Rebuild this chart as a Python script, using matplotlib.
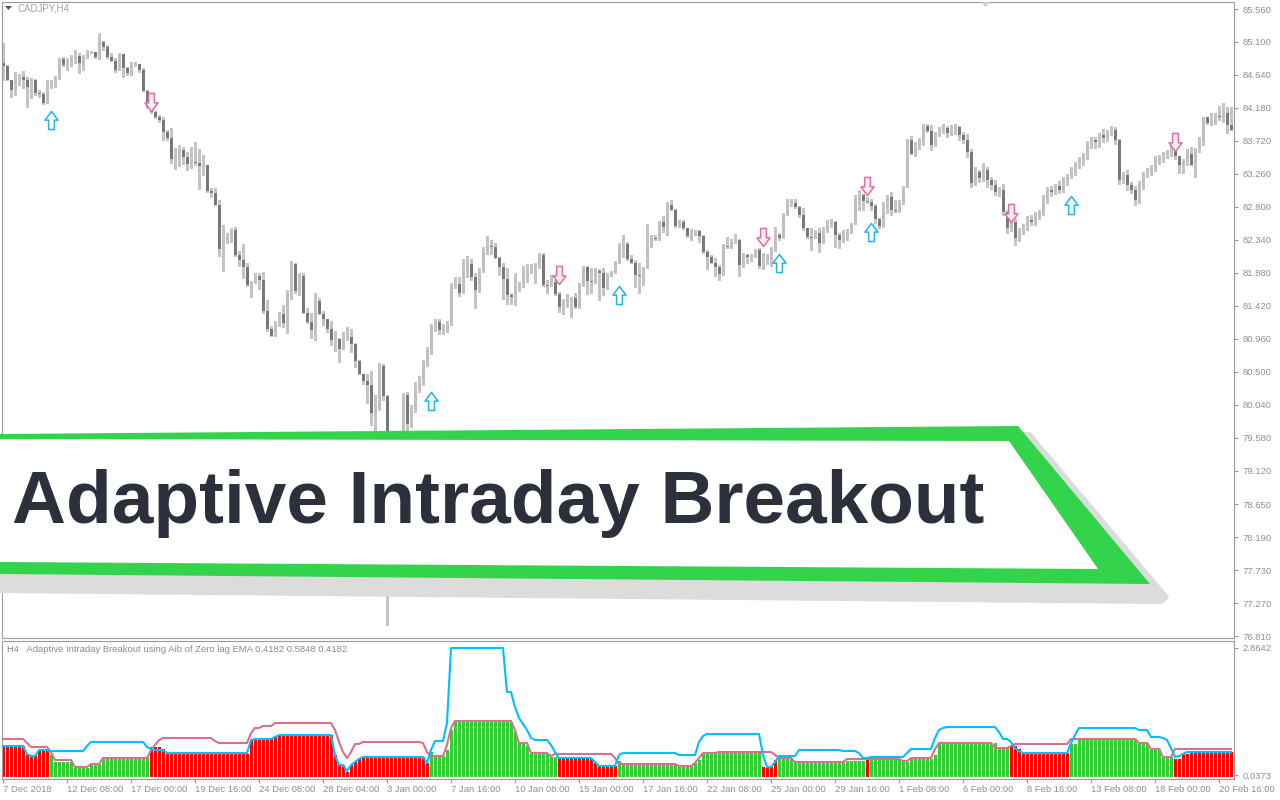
import numpy as np
import matplotlib.pyplot as plt
from matplotlib.path import Path
from matplotlib.patches import Polygon

# ---- price data (CADJPY H4), one value per bar ----
first_open = 84.81
closes = [
    84.77, 84.57, 84.43, 84.57, 84.61, 84.57, 84.47, 84.57, 84.39, 84.37,
    84.25, 84.50, 84.54, 84.60, 84.86, 84.78, 84.84, 84.89, 84.91, 84.81,
    84.89, 84.95, 84.96, 84.89, 85.10, 85.03, 84.89, 84.84, 84.71, 84.93,
    84.74, 84.67, 84.78, 84.79, 84.71, 84.42, 84.19, 84.12, 84.05, 84.01,
    83.84, 83.76, 83.47, 83.52, 83.59, 83.50, 83.40, 83.43, 83.41, 83.37,
    83.38, 83.02, 82.99, 82.83, 82.21, 82.34, 82.37, 82.48, 82.13, 82.06,
    81.96, 81.71, 81.75, 81.84, 81.78, 81.35, 81.10, 81.00, 81.17, 81.30,
    81.18, 81.58, 82.00, 81.63, 81.84, 81.32, 81.19, 81.08, 81.49, 81.30,
    81.23, 81.10, 80.94, 80.96, 80.82, 80.97, 80.98, 80.89, 80.65, 80.47,
    80.37, 80.31, 79.92, 79.98, 80.58, 80.16, 79.41, 79.34, 79.48, 79.55,
    80.17, 79.77, 79.98, 80.26, 80.34, 80.62, 80.80, 81.12, 81.19, 81.08,
    81.11, 81.15, 81.70, 81.72, 81.60, 81.89, 82.00, 81.82, 81.64, 81.89,
    82.17, 82.25, 82.24, 82.09, 81.96, 81.79, 81.57, 81.54, 81.70, 81.72,
    81.88, 81.90, 81.96, 82.00, 82.13, 81.71, 81.70, 81.75, 81.58, 81.40,
    81.47, 81.51, 81.53, 81.40, 81.71, 81.96, 81.77, 81.75, 81.90, 81.88,
    81.67, 81.84, 81.88, 82.03, 82.27, 82.28, 82.07, 82.02, 81.85, 81.84,
    81.95, 82.25, 82.37, 82.35, 82.59, 82.52, 82.83, 82.76, 82.53, 82.59,
    82.50, 82.39, 82.42, 82.46, 82.39, 82.17, 82.10, 82.02, 81.96, 81.86,
    82.25, 82.24, 82.32, 82.34, 81.99, 82.13, 82.10, 82.11, 82.20, 81.97,
    82.10, 82.11, 82.20, 82.41, 82.37, 82.69, 82.84, 82.85, 82.80, 82.69,
    82.50, 82.38, 82.37, 82.43, 82.30, 82.48, 82.56, 82.59, 82.41, 82.34,
    82.41, 82.45, 82.57, 82.88, 82.97, 82.88, 82.87, 82.81, 82.63, 82.53,
    82.77, 82.94, 82.76, 82.74, 82.85, 83.08, 83.73, 83.54, 83.64, 83.73,
    83.93, 83.86, 83.66, 83.80, 83.87, 83.90, 83.83, 83.87, 83.91, 83.80,
    83.73, 83.57, 83.13, 83.29, 83.20, 83.31, 83.17, 83.10, 83.01, 83.04,
    82.73, 82.50, 82.59, 82.37, 82.45, 82.53, 82.62, 82.59, 82.69, 82.73,
    82.90, 83.04, 83.01, 83.09, 83.04, 83.17, 83.23, 83.29, 83.38, 83.45,
    83.52, 83.66, 83.73, 83.70, 83.80, 83.76, 83.83, 83.87, 83.73, 83.17,
    83.24, 83.10, 83.04, 82.90, 83.10, 83.24, 83.31, 83.34, 83.45, 83.48,
    83.52, 83.56, 83.59, 83.51, 83.38, 83.43, 83.54, 83.38, 83.61, 83.69,
    84.05, 83.97, 83.97, 84.07, 84.05, 84.11, 83.94, 83.87,
]
upper_wick = [
    0.28, 0.01, 0.00, 0.11, 0.04, 0.08, 0.04, 0.03, 0.01, 0.04,
    0.03, 0.07, 0.03, 0.03, 0.01, 0.03, 0.03, 0.03, 0.08, 0.04,
    0.03, 0.04, 0.01, 0.00, 0.13, 0.01, 0.03, 0.06, 0.03, 0.01,
    0.00, 0.01, 0.04, 0.03, 0.00, 0.03, 0.01, 0.00, 0.01, 0.03,
    0.05, 0.03, 0.14, 0.10, 0.07, 0.04, 0.06, 0.20, 0.28, 0.20,
    0.14, 0.01, 0.04, 0.07, 0.07, 0.20, 0.06, 0.03, 0.04, 0.06,
    0.22, 0.06, 0.01, 0.04, 0.04, 0.11, 0.15, 0.03, 0.03, 0.03,
    0.13, 0.06, 0.04, 0.02, 0.03, 0.04, 0.07, 0.13, 0.11, 0.04,
    0.04, 0.01, 0.11, 0.11, 0.01, 0.08, 0.14, 0.11, 0.01, 0.01,
    0.00, 0.10, 0.20, 0.20, 0.04, 0.03, 0.01, 0.05, 0.05, 0.10,
    0.03, 0.05, 0.05, 0.10, 0.10, 0.04, 0.05, 0.05, 0.05, 0.05,
    0.05, 0.05, 0.04, 0.10, 0.10, 0.18, 0.11, 0.07, 0.06, 0.06,
    0.07, 0.14, 0.08, 0.06, 0.01, 0.05, 0.15, 0.03, 0.18, 0.03,
    0.10, 0.10, 0.04, 0.01, 0.03, 0.03, 0.07, 0.10, 0.03, 0.03,
    0.04, 0.07, 0.01, 0.07, 0.03, 0.01, 0.01, 0.18, 0.04, 0.03,
    0.06, 0.04, 0.03, 0.01, 0.03, 0.13, 0.03, 0.06, 0.04, 0.17,
    0.01, 0.31, 0.04, 0.03, 0.01, 0.08, 0.04, 0.06, 0.01, 0.03,
    0.03, 0.01, 0.07, 0.01, 0.01, 0.01, 0.03, 0.03, 0.07, 0.03,
    0.03, 0.13, 0.03, 0.08, 0.01, 0.03, 0.01, 0.03, 0.01, 0.03,
    0.06, 0.03, 0.04, 0.11, 0.03, 0.03, 0.07, 0.06, 0.06, 0.01,
    0.10, 0.01, 0.13, 0.04, 0.07, 0.04, 0.06, 0.04, 0.01, 0.03,
    0.07, 0.04, 0.01, 0.08, 0.07, 0.01, 0.06, 0.04, 0.03, 0.01,
    0.10, 0.03, 0.06, 0.14, 0.04, 0.01, 0.01, 0.06, 0.07, 0.03,
    0.03, 0.03, 0.08, 0.04, 0.04, 0.06, 0.03, 0.07, 0.04, 0.02,
    0.05, 0.08, 0.04, 0.06, 0.03, 0.10, 0.04, 0.05, 0.07, 0.03,
    0.08, 0.03, 0.05, 0.04, 0.06, 0.03, 0.05, 0.07, 0.04, 0.03,
    0.06, 0.04, 0.05, 0.03, 0.07, 0.04, 0.03, 0.06, 0.04, 0.05,
    0.03, 0.06, 0.04, 0.05, 0.03, 0.08, 0.04, 0.06, 0.05, 0.02,
    0.05, 0.07, 0.04, 0.05, 0.06, 0.04, 0.03, 0.05, 0.06, 0.04,
    0.05, 0.03, 0.06, 0.08, 0.00, 0.04, 0.06, 0.10, 0.01, 0.08,
    0.00, 0.00, 0.14, 0.04, 0.13, 0.14, 0.08, 0.25,
]
lower_wick = [
    0.20, 0.00, 0.10, 0.07, 0.07, 0.11, 0.28, 0.15, 0.03, 0.04,
    0.01, 0.00, 0.04, 0.07, 0.01, 0.01, 0.07, 0.08, 0.08, 0.14,
    0.10, 0.01, 0.01, 0.01, 0.03, 0.04, 0.01, 0.01, 0.03, 0.00,
    0.13, 0.03, 0.03, 0.01, 0.03, 0.01, 0.01, 0.01, 0.01, 0.03,
    0.11, 0.03, 0.06, 0.14, 0.15, 0.10, 0.08, 0.06, 0.03, 0.32,
    0.13, 0.01, 0.06, 0.01, 0.10, 0.30, 0.04, 0.06, 0.01, 0.08,
    0.15, 0.01, 0.17, 0.01, 0.12, 0.03, 0.03, 0.00, 0.00, 0.04,
    0.06, 0.14, 0.07, 0.03, 0.06, 0.00, 0.01, 0.11, 0.14, 0.00,
    0.08, 0.04, 0.07, 0.15, 0.18, 0.01, 0.03, 0.12, 0.08, 0.00,
    0.04, 0.25, 0.17, 0.24, 0.01, 0.05, 2.45, 0.15, 0.10, 0.10,
    0.10, 0.08, 0.04, 0.05, 0.04, 0.03, 0.04, 0.05, 0.05, 0.05,
    0.05, 0.05, 0.00, 0.03, 0.04, 0.00, 0.07, 0.04, 0.25, 0.03,
    0.00, 0.03, 0.10, 0.01, 0.11, 0.27, 0.13, 0.10, 0.11, 0.08,
    0.04, 0.13, 0.03, 0.22, 0.06, 0.01, 0.10, 0.01, 0.01, 0.07,
    0.10, 0.07, 0.25, 0.01, 0.01, 0.01, 0.18, 0.15, 0.01, 0.38,
    0.10, 0.01, 0.01, 0.01, 0.01, 0.17, 0.01, 0.01, 0.17, 0.24,
    0.13, 0.01, 0.01, 0.01, 0.01, 0.07, 0.11, 0.01, 0.01, 0.01,
    0.01, 0.01, 0.06, 0.01, 0.08, 0.01, 0.17, 0.01, 0.13, 0.08,
    0.01, 0.01, 0.01, 0.03, 0.15, 0.03, 0.08, 0.06, 0.01, 0.03,
    0.04, 0.10, 0.14, 0.01, 0.03, 0.01, 0.01, 0.03, 0.01, 0.03,
    0.03, 0.01, 0.17, 0.01, 0.13, 0.01, 0.03, 0.04, 0.17, 0.11,
    0.03, 0.07, 0.01, 0.01, 0.13, 0.13, 0.01, 0.06, 0.06, 0.03,
    0.01, 0.06, 0.07, 0.01, 0.01, 0.01, 0.01, 0.01, 0.03, 0.03,
    0.07, 0.01, 0.07, 0.01, 0.01, 0.04, 0.06, 0.03, 0.05, 0.07,
    0.04, 0.08, 0.05, 0.03, 0.06, 0.04, 0.09, 0.05, 0.04, 0.06,
    0.05, 0.07, 0.04, 0.10, 0.05, 0.03, 0.06, 0.05, 0.04, 0.06,
    0.05, 0.04, 0.06, 0.03, 0.05, 0.04, 0.06, 0.03, 0.05, 0.04,
    0.07, 0.05, 0.04, 0.08, 0.06, 0.05, 0.04, 0.03, 0.06, 0.05,
    0.04, 0.06, 0.05, 0.07, 0.04, 0.05, 0.03, 0.06, 0.04, 0.05,
    0.06, 0.04, 0.05, 0.04, 0.11, 0.11, 0.04, 0.00, 0.17, 0.04,
    0.03, 0.01, 0.03, 0.01, 0.04, 0.06, 0.11, 0.00,
]

# signal arrows: (bar index, price)
buy_bars = [12, 107, 154, 194, 217, 267]
buy_prices = [84.01, 80.09, 81.57, 82.02, 82.45, 82.83]
sell_bars = [37, 139, 190, 216, 252, 293]
sell_prices = [84.26, 81.85, 82.38, 83.09, 82.71, 83.70]

price_labels = ['85.560', '85.100', '84.640', '84.180', '83.720', '83.260', '82.800',
                '82.340', '81.880', '81.420', '80.960', '80.500', '80.040', '79.580',
                '79.120', '78.650', '78.190', '77.730', '77.270', '76.810']

date_bars = [0, 16, 32, 48, 64, 80, 96, 112, 128, 144, 160, 176, 192, 208,
             224, 240, 256, 272, 288, 304]
date_labels = ['7 Dec 2018', '12 Dec 08:00', '17 Dec 00:00', '19 Dec 16:00',
               '24 Dec 08:00', '28 Dec 04:00', '3 Jan 00:00', '7 Jan 16:00',
               '10 Jan 08:00', '15 Jan 00:00', '17 Jan 16:00', '22 Jan 08:00',
               '25 Jan 00:00', '29 Jan 16:00', '1 Feb 08:00', '6 Feb 00:00',
               '8 Feb 16:00', '13 Feb 08:00', '18 Feb 00:00', '20 Feb 16:00']

# ---- indicator (runs of equal values: count, level) ----
hist_counts = [6, 3, 3, 1, 5, 4, 3, 12, 3, 1, 21, 6, 1, 14, 1, 2, 1, 1, 1, 1, 15, 1, 1,
               1, 3, 1, 1, 15, 1, 2, 1, 5, 2, 9, 1, 5, 1, 15, 3, 1, 1, 4, 11, 3, 1,
               4, 18, 1, 9, 1, 6, 1, 15, 3, 2, 1, 12, 2, 15, 3, 3, 3, 2, 2, 11]
hist_levels = [0.688, 0.488, 0.577, 0.488, 0.333, 0.200, 0.289, 0.422, 0.666, 0.622,
               0.511, 0.844, 0.888, 0.932, 0.488, 0.266, 0.111, 0.266, 0.333, 0.422,
               0.444, 0.444, 0.311, 0.555, 0.466, 0.599, 1.043, 1.221, 0.999, 0.755,
               0.688, 0.511, 0.444, 0.422, 0.311, 0.244, 0.355, 0.266, 0.244, 0.311,
               0.377, 0.533, 0.555, 0.222, 0.377, 0.400, 0.355, 0.377, 0.377, 0.333,
               0.400, 0.488, 0.755, 0.644, 0.688, 0.622, 0.533, 0.733, 0.844, 0.755,
               0.622, 0.444, 0.400, 0.511, 0.555]
hist_dirs = 'rrrgggggrrrrrrrrrrrrrrrggggggggggrrrgggggggrrggrggggggrrrgggggrrr'

pink_counts = [6, 1, 5, 1, 5, 4, 3, 12, 1, 1, 1, 13, 1, 8, 1, 2, 3, 15, 1, 1, 1, 1, 1,
               2, 15, 1, 1, 4, 1, 1, 15, 1, 3, 5, 1, 1, 14, 1, 15, 4, 1, 1, 4, 14, 1,
               4, 13, 14, 2, 6, 1, 14, 4, 1, 14, 17, 3, 3, 3, 15]
pink_levels = [0.844, 0.755, 0.666, 0.555, 0.377, 0.222, 0.289, 0.422, 0.599, 0.710,
               0.821, 0.866, 0.799, 0.755, 0.977, 1.088, 1.132, 1.199, 1.043, 0.777,
               0.555, 0.422, 0.555, 0.733, 0.777, 0.755, 0.555, 0.466, 0.710, 1.088,
               1.243, 1.043, 0.755, 0.533, 0.466, 0.511, 0.511, 0.422, 0.289, 0.244,
               0.311, 0.422, 0.533, 0.555, 0.488, 0.422, 0.333, 0.400, 0.355, 0.422,
               0.622, 0.755, 0.644, 0.688, 0.733, 0.844, 0.755, 0.622, 0.444, 0.622]

blue_counts = [6, 1, 2, 3, 9, 1, 14, 1, 1, 3, 21, 1, 5, 1, 14, 1, 2, 1, 1, 1, 1, 16,
               1, 1, 3, 1, 14, 2, 1, 1, 1, 1, 1, 4, 1, 1, 9, 1, 5, 1, 14, 5, 1, 1,
               14, 1, 2, 1, 5, 11, 4, 1, 2, 9, 1, 6, 1, 1, 1, 13, 1, 2, 1, 1, 1, 12,
               1, 1, 15, 3, 3, 1, 1, 1, 1, 1, 1, 12]
blue_levels = [0.688, 0.511, 0.466, 0.599, 0.577, 0.688, 0.777, 0.666, 0.622, 0.599,
               0.533, 0.821, 0.844, 0.888, 0.932, 0.488, 0.266, 0.133, 0.266, 0.333,
               0.400, 0.444, 0.311, 0.599, 0.799, 1.199, 2.864, 1.887, 1.554, 1.310,
               1.177, 1.043, 0.866, 0.821, 0.710, 0.555, 0.422, 0.333, 0.244, 0.488,
               0.533, 0.488, 0.777, 0.910, 0.955, 0.488, 0.222, 0.333, 0.466, 0.599,
               0.577, 0.533, 0.422, 0.444, 0.533, 0.622, 0.866, 1.043, 1.088, 1.110,
               0.999, 0.844, 0.777, 0.644, 0.577, 0.533, 0.755, 0.932, 1.088, 1.043,
               0.888, 0.866, 0.821, 0.644, 0.444, 0.466, 0.511, 0.555]

ind_title = 'H4   Adaptive Intraday Breakout using Aib of Zero lag EMA 0.4182 0.5848 0.4182'
ind_labels = ['2.8642', '0.0373']

# ---- figure ----
W, H = 1280, 800
fig = plt.figure(figsize=(12.8, 8), dpi=100)
plt.rcParams['font.family'] = ['Liberation Sans', 'DejaVu Sans']

def px_rect(x0, y0, x1, y1):
    return [x0 / W, 1 - y1 / H, (x1 - x0) / W, (y1 - y0) / H]

grey = '#9a9a9a'
txt_grey = '#8e8e9c'

ax = fig.add_axes(px_rect(2, 2, 1234, 638))
axi = fig.add_axes(px_rect(2, 641, 1234, 779))

closes = np.array(closes)
opens = np.r_[first_open, closes[:-1]]
idx = np.arange(len(closes))
body_lo = np.minimum(opens, closes)
body_hi = np.maximum(opens, closes)
highs = body_hi + np.array(upper_wick)
lows = body_lo - np.array(lower_wick)
bull = closes >= opens

ax.vlines(idx, lows, highs, color='#c4c4c4', lw=0.8, antialiased=False, zorder=1)
heights = np.maximum(body_hi - body_lo, 0.014)
ax.bar(idx, heights, bottom=body_lo, width=0.75,
       color=np.where(bull, '#c0c0c0', '#787878'), linewidth=0, antialiased=False, zorder=2)

# arrows
up_path = Path([(-0.16, -0.5), (0.16, -0.5), (0.16, 0.02), (0.36, 0.02), (0, 0.5),
                (-0.36, 0.02), (-0.16, 0.02), (-0.16, -0.5)], closed=True)
down_path = Path([(x, -y) for x, y in up_path.vertices], closed=True)
ax.scatter(buy_bars, buy_prices, marker=up_path, s=170, facecolor='white',
           edgecolor='#1eb4f0', linewidth=1.1, zorder=4)
ax.scatter(sell_bars, sell_prices, marker=down_path, s=170, facecolor='#f6eef8',
           edgecolor='#e0709a', linewidth=1.1, zorder=4)

ax.set_xlim(-0.25, 307.75)
ax.set_ylim(76.783, 85.658)
ax.set_xticks([])
ax.yaxis.tick_right()
ax.set_yticks([float(s) for s in price_labels])
ax.set_yticklabels(price_labels)
ax.tick_params(axis='y', length=3, width=0.8, color=grey, pad=3, labelsize=6.8,
               labelcolor=txt_grey)
for s in ax.spines.values():
    s.set_color(grey)
    s.set_linewidth(0.8)

# indicator
hist = np.repeat(hist_levels, hist_counts)
hist_col = np.repeat(['#ff0000' if d == 'r' else '#32cd32' for d in hist_dirs], hist_counts)
pink = np.repeat(pink_levels, pink_counts)
blue = np.repeat(blue_levels, blue_counts)
axi.bar(idx, hist, width=0.75, color=hist_col, linewidth=0, antialiased=False, zorder=1)
axi.plot(idx, pink, color='#d8708f', lw=1.5, zorder=2)
axi.plot(idx, blue, color='#00bfff', lw=1.5, zorder=3)
axi.set_xlim(-0.25, 307.75)
axi.set_ylim(-0.044, 3.019)
axi.yaxis.tick_right()
axi.set_yticks([2.8642, 0.0373])
axi.set_yticklabels(ind_labels)
axi.tick_params(axis='y', length=3, width=0.8, color=grey, pad=3, labelsize=6.8,
                labelcolor=txt_grey)
axi.set_xticks(date_bars)
axi.set_xticklabels(date_labels)
axi.tick_params(axis='x', length=3, width=0.8, color=grey, pad=1.5, labelsize=6.8,
                labelcolor=txt_grey)
for lab in axi.get_xticklabels():
    lab.set_horizontalalignment('left')
for s in axi.spines.values():
    s.set_color(grey)
    s.set_linewidth(0.8)
axi.text(0.004, 0.97, ind_title, transform=axi.transAxes, ha='left', va='top',
         fontsize=6.8, color='#8a8a8a')

# overlay in pixel coordinates: header marks and banner
ov = fig.add_axes([0, 0, 1, 1])
ov.set_xlim(0, W)
ov.set_ylim(H, 0)
ov.axis('off')
ov.patch.set_visible(False)

ov.add_patch(Polygon([(5, 6), (12, 6), (8.5, 10)], closed=True, color='#555555', lw=0))
ov.text(17, 8.5, 'CADJPY,H4', fontsize=7, color='#9ea2b8', va='center', ha='left')
ov.add_patch(Polygon([(981, 2), (990, 2), (985.5, 7)], closed=True, color='#cfcfcf', lw=0))

ov.add_patch(Polygon([(0, 448), (1030, 433), (1168, 597), (1162, 603), (0, 592)],
                     closed=True, facecolor='#dcdcdc', edgecolor='#dcdcdc', lw=1.5,
                     joinstyle='round'))
ov.add_patch(Polygon([(0, 434), (1018, 426), (1150, 584), (0, 574)], closed=True,
                     facecolor='#33d44c', lw=0))
ov.add_patch(Polygon([(0, 439), (1009, 441), (1098, 569), (0, 562)], closed=True,
                     facecolor='white', lw=0))
title = ov.text(12, 523, 'Adaptive Intraday Breakout', fontsize=52, fontweight='bold',
                color='#2b303b', ha='left', va='baseline')
fig.canvas.draw()
bb = title.get_window_extent()
title.set_fontsize(52 * 973 / bb.width)

fig.savefig('out.png', dpi=100, facecolor='white')
